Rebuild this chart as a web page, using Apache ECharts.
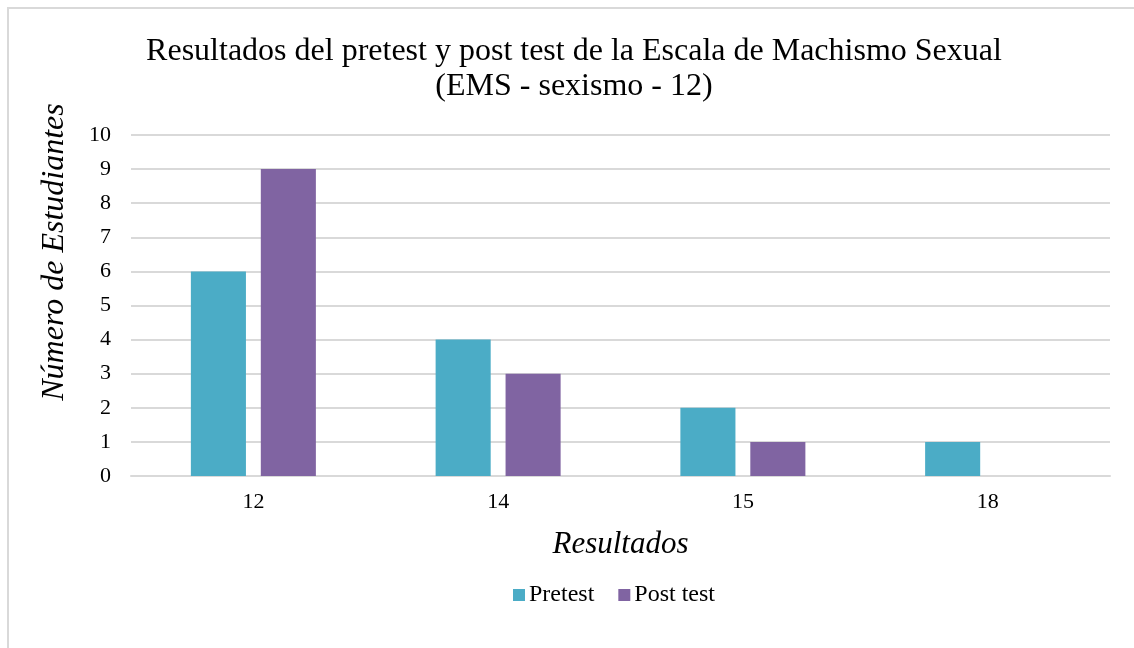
<!DOCTYPE html>
<html>
<head>
<meta charset="utf-8">
<script src="https://cdn.jsdelivr.net/npm/echarts@6/dist/echarts.min.js"></script>
<style>
  html, body { margin: 0; padding: 0; background: #fff; }
  #chart { width: 1134px; height: 648px; }
</style>
</head>
<body>
<div id="chart"></div>
<script>
const categories = ['12', '14', '15', '18']
const pretest = [6, 4, 2, 1]
const postTest = [9, 3, 1, 0]
const yTicks = { min: 0, max: 10, interval: 1 }

const serif = '"Liberation Serif", "DejaVu Serif", serif'

let chart = echarts.init(document.getElementById('chart'))

let opts = {
  animation: false,
  title: {
    text: 'Resultados del pretest y post test de la Escala de Machismo Sexual\n(EMS - sexismo - 12)',
    left: 569,
    top: 29,
    textAlign: 'center',
    textStyle: {
      fontFamily: serif,
      fontSize: 32,
      fontWeight: 'normal',
      color: '#000',
      lineHeight: 35
    }
  },
  legend: {
    data: ['Pretest', 'Post test'],
    left: 508,
    top: 578,
    icon: 'rect',
    itemWidth: 12,
    itemHeight: 12,
    itemGap: 24,
    textStyle: { fontFamily: serif, fontSize: 24, color: '#000', padding: [0, 0, 0, -1] }
  },
  grid: { left: 131, right: 24, top: 135, bottom: 172 },
  xAxis: {
    type: 'category',
    data: categories,
    name: 'Resultados',
    nameLocation: 'middle',
    nameGap: 53,
    nameTextStyle: { fontFamily: serif, fontSize: 31, fontStyle: 'italic', color: '#000' },
    axisLine: { lineStyle: { color: '#d9d9d9', width: 2 } },
    axisTick: { show: false },
    axisLabel: { fontFamily: serif, fontSize: 22, color: '#000', margin: 15 }
  },
  yAxis: {
    type: 'value',
    min: yTicks.min,
    max: yTicks.max,
    interval: yTicks.interval,
    axisLine: { show: false },
    axisTick: { show: false },
    axisLabel: { fontFamily: serif, fontSize: 22, color: '#000', margin: 20 },
    splitLine: { lineStyle: { color: '#d9d9d9', width: 2 } }
  },
  graphic: [
    {
      type: 'rect',
      shape: { x: 8, y: 8, width: 1300, height: 1000 },
      style: { fill: 'none', stroke: '#d9d9d9', lineWidth: 2 },
      silent: true
    },
    {
      type: 'text',
      x: 55,
      y: 252,
      rotation: Math.PI / 2,
      style: {
        text: 'Número de Estudiantes',
        font: 'italic 32px ' + serif,
        fill: '#000',
        align: 'center',
        verticalAlign: 'middle'
      }
    }
  ],
  series: [
    {
      name: 'Pretest',
      type: 'bar',
      data: pretest,
      barWidth: '22.5%',
      barGap: '27%',
      itemStyle: { color: '#4bacc6' }
    },
    {
      name: 'Post test',
      type: 'bar',
      data: postTest,
      barWidth: '22.5%',
      itemStyle: { color: '#8064a2' }
    }
  ]
}
chart.setOption(opts)
</script>
</body>
</html>
